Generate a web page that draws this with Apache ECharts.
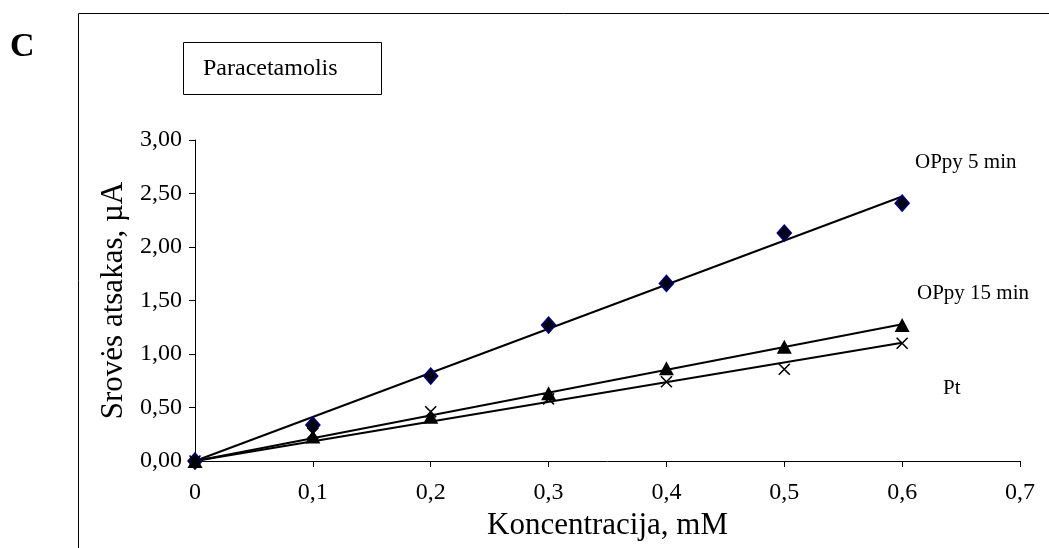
<!DOCTYPE html>
<html><head><meta charset="utf-8">
<script src="https://cdn.jsdelivr.net/npm/echarts@6/dist/echarts.min.js"></script>
<style>html,body{margin:0;padding:0;background:#fff}#c{width:1049px;height:548px}</style>
</head><body><div id="c"></div>
<script>
const concentrations = [0, 0.1, 0.2, 0.3, 0.4, 0.5, 0.6];
const oppy5 = [0, 0.336, 0.794, 1.27, 1.66, 2.13, 2.41];
const oppy15 = [0, 0.23, 0.414, 0.633, 0.866, 1.068, 1.27];
const pt = [0, 0.26, 0.46, 0.58, 0.741, 0.857, 1.10];
const seriesNames = ['OPpy 5 min', 'OPpy 15 min', 'Pt'];
const xTicks = ['0', '0,1', '0,2', '0,3', '0,4', '0,5', '0,6', '0,7'];

function pairs(ys){ return concentrations.map((x,i)=>[x, ys[i]]); }
function originFit(ys){
  let sxy=0, sxx=0;
  concentrations.forEach((x,i)=>{sxy+=x*ys[i]; sxx+=x*x;});
  const b=sxy/sxx, xe=concentrations[concentrations.length-1];
  return [[0,0],[xe,b*xe]];
}
const serif = '"Liberation Serif","DejaVu Serif",serif';
const chart = echarts.init(document.getElementById('c'));
const lineStyle = {color:'#000', width:2};
function trend(ys){ return {type:'line', data:originFit(ys), showSymbol:false, symbol:'none', lineStyle, z:1, silent:true}; }
chart.setOption({
  animation:false,
  backgroundColor:'#fff',
  grid:{left:195, right:29, top:140, bottom:87},
  xAxis:{type:'value', min:0, max:0.7, interval:0.1,
    axisLine:{lineStyle:{color:'#000', width:1}},
    axisTick:{inside:false, length:6, lineStyle:{color:'#000'}},
    splitLine:{show:false},
    axisLabel:{color:'#000', fontFamily:serif, fontSize:24, margin:20,
      formatter:v=>xTicks[Math.round(v*10)]},
    name:'Koncentracija, mM', nameLocation:'middle', nameGap:47,
    nameTextStyle:{color:'#000', fontFamily:serif, fontSize:31}},
  yAxis:{type:'value', min:0, max:3, interval:0.5,
    axisLine:{show:true, lineStyle:{color:'#000', width:1}},
    axisTick:{show:true, inside:false, length:6, lineStyle:{color:'#000'}},
    splitLine:{show:false},
    axisLabel:{color:'#000', fontFamily:serif, fontSize:24, margin:13,
      formatter:v=>v.toFixed(2).replace('.', ',')},
    name:'Srovės atsakas, µA', nameLocation:'middle', nameGap:62,
    nameTextStyle:{color:'#000', fontFamily:serif, fontSize:31}},
  series:[
    trend(oppy5), trend(oppy15), trend(pt),
    {name:seriesNames[0], type:'scatter', data:pairs(oppy5), symbol:'diamond', symbolSize:[14,16],
      itemStyle:{color:'#00000f', borderColor:'#000080', borderWidth:1.5, opacity:1}, z:3},
    {name:seriesNames[1], type:'scatter', data:pairs(oppy15), symbol:'triangle', symbolSize:[15,14],
      itemStyle:{color:'#000', opacity:1}, z:3},
    {name:seriesNames[2], type:'scatter', data:pairs(pt), symbol:'path://M0,0L10,10M10,0L0,10', symbolSize:11,
      itemStyle:{color:'rgba(0,0,0,0)', borderColor:'#000', borderWidth:1.6, opacity:1}, z:3}
  ],
  graphic:[
    {type:'line', shape:{x1:78.5, y1:13.5, x2:1049, y2:13.5}, style:{stroke:'#000', lineWidth:1}},
    {type:'line', shape:{x1:78.5, y1:13.5, x2:78.5, y2:548}, style:{stroke:'#000', lineWidth:1}},
    {type:'text', x:10, y:47, style:{text:'C', font:'bold 34px '+serif, fill:'#000', textVerticalAlign:'middle'}},
    {type:'rect', shape:{x:183.5, y:42.5, width:198, height:52}, style:{fill:'#fff', stroke:'#000', lineWidth:1}},
    {type:'text', x:203, y:69, style:{text:'Paracetamolis', font:'24px '+serif, fill:'#000', textVerticalAlign:'middle'}},
    {type:'text', x:915, y:162, style:{text:seriesNames[0], font:'21px '+serif, fill:'#000', textVerticalAlign:'middle'}},
    {type:'text', x:917, y:293, style:{text:seriesNames[1], font:'21px '+serif, fill:'#000', textVerticalAlign:'middle'}},
    {type:'text', x:943, y:388, style:{text:seriesNames[2], font:'21px '+serif, fill:'#000', textVerticalAlign:'middle'}}
  ]
});
</script></body></html>
